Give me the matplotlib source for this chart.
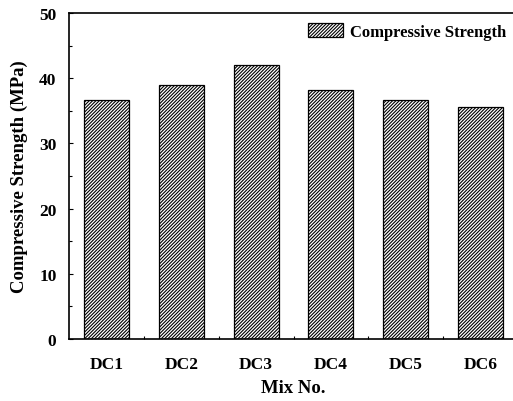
import matplotlib
matplotlib.use("Agg")
import matplotlib.pyplot as plt
import numpy as np

categories = ["DC1", "DC2", "DC3", "DC4", "DC5", "DC6"]
strength = [36.7, 39.0, 42.1, 38.2, 36.6, 35.6]
yticks = [0, 10, 20, 30, 40, 50]

plt.rcParams['font.family'] = ['Liberation Serif', 'DejaVu Serif']
plt.rcParams['font.weight'] = 'bold'
plt.rcParams['hatch.linewidth'] = 0.8

fig = plt.figure(figsize=(5.13, 4.02), dpi=100)
ax = fig.add_axes([69/513, 62/402, 449/513, 326/402])

x = np.arange(len(categories))
ax.bar(x, strength, width=0.6, color='white', edgecolor='black', linewidth=0.9,
       hatch='//////////', label='Compressive Strength')

ax.set_xlim(-0.5, 5.5)
ax.set_ylim(0, 50)
ax.set_yticks(yticks)
ax.set_yticks(np.arange(0, 51, 5), minor=True)
ax.set_xticks(x)
ax.set_xticklabels(categories)
ax.set_xticks(x[:-1] + 0.5, minor=True)
ax.set_axisbelow(True)
ax.tick_params(axis='both', which='both', direction='in', labelsize=12.5)
ax.tick_params(axis='both', which='major', length=3, width=0.8)
ax.tick_params(axis='both', which='minor', length=2, width=0.8)
ax.tick_params(axis='x', which='major', pad=12)
ax.tick_params(axis='y', which='major', pad=9)
for lab in ax.get_xticklabels() + ax.get_yticklabels():
    lab.set_fontweight('bold')
for s in ax.spines.values():
    s.set_linewidth(1.2)

ax.set_xlabel('Mix No.', fontsize=13.5, fontweight='bold', labelpad=5)
ax.set_ylabel('Compressive Strength (MPa)', fontsize=13.5, fontweight='bold', labelpad=8)

ax.legend(loc='upper right', bbox_to_anchor=(0.995, 1.0), frameon=False,
          prop={'size': 12, 'weight': 'bold'}, handlelength=2.1, handleheight=0.9,
          handletextpad=0.4, borderaxespad=0.2)

fig.savefig('out.png', dpi=100)
